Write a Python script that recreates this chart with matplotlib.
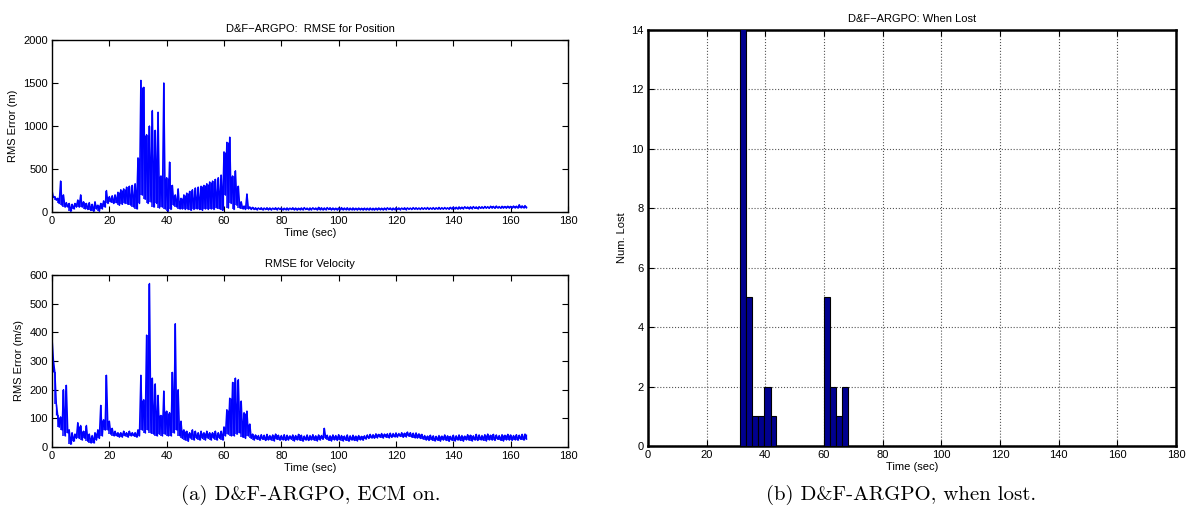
import matplotlib
matplotlib.use("Agg")
import matplotlib.pyplot as plt
import numpy as np

plt.rcParams['font.family'] = ['Liberation Sans', 'DejaVu Sans']

# ---- data (1 s steps, upper / lower envelope) ----
t_sec = np.arange(0, 166)

pos_hi = [250, 180, 160, 360, 200, 110, 100, 90, 100, 140,
          200, 120, 100, 110, 90, 120, 80, 100, 130, 250,
          180, 190, 200, 230, 260, 270, 290, 300, 310, 330,
          630, 1530, 1450, 900, 1000, 1180, 950, 1160, 420, 1500,
          400, 580, 310, 200, 270, 160, 200, 220, 240, 260,
          280, 290, 300, 310, 330, 350, 360, 380, 400, 430,
          700, 810, 870, 420, 480, 300, 120, 70, 210, 60,
          55, 50, 48, 50, 47, 50, 48, 46, 50, 48,
          47, 45, 48, 46, 50, 47, 45, 48, 52, 46,
          48, 50, 47, 55, 50, 48, 52, 50, 47, 45,
          48, 52, 47, 50, 46, 48, 45, 47, 44, 46,
          45, 47, 44, 46, 48, 45, 47, 50, 48, 46,
          50, 48, 47, 50, 49, 47, 52, 50, 48, 51,
          50, 53, 49, 52, 50, 54, 51, 53, 50, 55,
          58, 56, 60, 57, 62, 59, 61, 64, 60, 63,
          62, 65, 63, 68, 66, 70, 64, 67, 65, 68,
          66, 70, 68, 85, 72, 75]
pos_lo = [170, 140, 100, 80, 60, 60, 10, 40, 60, 60,
          60, 40, 30, 20, 10, 40, 10, 40, 60, 100,
          120, 100, 110, 80, 90, 100, 90, 80, 60, 40,
          100, 200, 150, 100, 120, 60, 100, 50, 60, 40,
          10, 30, 80, 60, 40, 40, 30, 30, 20, 30,
          40, 30, 20, 40, 30, 40, 30, 50, 40, 20,
          200, 50, 100, 30, 80, 50, 40, 30, 40, 30,
          30, 28, 32, 27, 30, 29, 26, 31, 28, 30,
          27, 29, 26, 30, 28, 25, 29, 27, 30, 26,
          28, 30, 27, 29, 26, 28, 30, 27, 29, 26,
          28, 27, 29, 26, 28, 27, 26, 28, 25, 27,
          26, 28, 25, 27, 29, 26, 28, 30, 27, 29,
          30, 28, 31, 29, 32, 30, 33, 31, 30, 32,
          33, 31, 34, 32, 35, 33, 34, 36, 33, 35,
          38, 36, 40, 38, 42, 39, 41, 43, 40, 44,
          42, 45, 43, 47, 44, 48, 45, 47, 46, 48,
          47, 50, 48, 52, 50, 53]

vel_hi = [380, 260, 110, 105, 200, 215, 60, 50, 45, 85,
          75, 55, 75, 45, 40, 50, 60, 145, 95, 250,
          90, 65, 55, 50, 50, 55, 50, 55, 50, 50,
          60, 250, 165, 390, 570, 240, 220, 180, 110, 195,
          125, 120, 260, 430, 200, 90, 60, 55, 50, 60,
          55, 50, 55, 50, 55, 50, 50, 55, 50, 55,
          70, 130, 170, 225, 240, 235, 160, 120, 125, 80,
          45, 42, 40, 43, 41, 44, 40, 42, 45, 41,
          40, 43, 41, 39, 42, 40, 44, 41, 38, 42,
          40, 43, 39, 42, 40, 65, 41, 39, 42, 40,
          43, 40, 38, 42, 39, 41, 38, 40, 37, 39,
          42, 44, 43, 46, 44, 47, 45, 46, 48, 47,
          49, 47, 50, 48, 52, 50, 48, 49, 46, 44,
          40, 38, 41, 39, 37, 40, 38, 42, 39, 37,
          41, 39, 42, 40, 38, 43, 41, 39, 44, 42,
          40, 43, 45, 41, 44, 42, 40, 43, 41, 44,
          42, 40, 43, 41, 44, 45]
vel_lo = [300, 150, 70, 60, 40, 50, 10, 20, 30, 30,
          25, 30, 20, 15, 15, 25, 30, 40, 60, 60,
          45, 40, 40, 35, 35, 40, 35, 40, 40, 35,
          40, 60, 50, 60, 50, 45, 40, 45, 40, 45,
          40, 40, 50, 60, 40, 30, 25, 20, 30, 25,
          30, 25, 30, 25, 30, 25, 30, 25, 30, 25,
          40, 45, 40, 40, 45, 50, 35, 30, 40, 30,
          25, 28, 24, 27, 23, 26, 25, 22, 27, 24,
          26, 23, 25, 27, 22, 26, 24, 21, 25, 23,
          26, 24, 22, 25, 27, 30, 24, 22, 26, 23,
          25, 22, 24, 21, 25, 23, 22, 26, 24, 28,
          30, 32, 31, 33, 34, 32, 35, 33, 34, 36,
          35, 37, 34, 36, 38, 35, 33, 32, 30, 28,
          25, 23, 26, 22, 24, 21, 25, 23, 20, 24,
          22, 25, 23, 21, 26, 24, 22, 25, 23, 26,
          24, 22, 26, 25, 23, 27, 24, 22, 26, 25,
          23, 26, 24, 27, 25, 28]

# histogram of loss times: bin left edges, widths and counts
lost_left = [31.5, 33.5, 35.5, 37.6, 39.7, 41.8, 60.0, 62.1, 64.2, 66.3]
lost_width = [2.0, 2.0, 2.1, 2.1, 2.1, 2.0, 2.1, 2.1, 2.1, 2.0]
lost_count = [15, 5, 1, 1, 2, 1, 5, 2, 1, 2]


def zigzag(t, hi, lo):
    x = np.empty(2 * len(t))
    y = np.empty(2 * len(t))
    x[0::2] = t
    x[1::2] = np.asarray(t) + 0.5
    y[0::2] = hi
    y[1::2] = lo
    return x, y


def noisy(ax, t, hi, lo):
    # dense noisy trace: zigzag between envelope plus a stroke per sample
    x, y = zigzag(t, hi, lo)
    ax.plot(x, y, color='b', lw=1.1)
    ax.vlines(t, lo, hi, color='b', lw=1.1)
    ax.vlines(np.asarray(t) + 0.5, lo, np.minimum(hi, np.roll(hi, -1)),
              color='b', lw=0.9)


def matlab_axes(ax, lw=1.0):
    for s in ax.spines.values():
        s.set_linewidth(lw)
    ax.tick_params(direction='in', top=True, right=True, length=4,
                   width=0.8, labelsize=8, pad=3)


fig = plt.figure(figsize=(11.9, 5.16), dpi=100)

ax1 = fig.add_axes([0.0437, 0.589, 0.4336, 0.3335])
ax2 = fig.add_axes([0.0437, 0.1337, 0.4336, 0.3335])
ax3 = fig.add_axes([0.5445, 0.1357, 0.4437, 0.8062])

noisy(ax1, t_sec, pos_hi, pos_lo)
ax1.set_xlim(0, 180)
ax1.set_ylim(0, 2000)
ax1.set_xticks(np.arange(0, 181, 20))
ax1.set_yticks(np.arange(0, 2001, 500))
ax1.set_title('D&F\u2212ARGPO:  RMSE for Position', fontsize=8, pad=6)
ax1.set_xlabel('Time (sec)', fontsize=8, labelpad=1)
ax1.set_ylabel('RMS Error (m)', fontsize=8, labelpad=4)
matlab_axes(ax1)

noisy(ax2, t_sec, vel_hi, vel_lo)
ax2.set_xlim(0, 180)
ax2.set_ylim(0, 600)
ax2.set_xticks(np.arange(0, 181, 20))
ax2.set_yticks(np.arange(0, 601, 100))
ax2.set_title('RMSE for Velocity', fontsize=8, pad=6)
ax2.set_xlabel('Time (sec)', fontsize=8, labelpad=1)
ax2.set_ylabel('RMS Error (m/s)', fontsize=8, labelpad=4)
matlab_axes(ax2)

ax3.bar(lost_left, lost_count, width=lost_width, align='edge',
        color='#00008f', edgecolor='k', linewidth=0.8, zorder=3)
ax3.set_xlim(0, 180)
ax3.set_ylim(0, 14)
ax3.set_xticks(np.arange(0, 181, 20))
ax3.set_yticks(np.arange(0, 15, 2))
ax3.grid(True, linestyle=':', color='#555555', linewidth=0.8)
ax3.set_title('D&F\u2212ARGPO: When Lost', fontsize=8, pad=6)
ax3.set_xlabel('Time (sec)', fontsize=8, labelpad=1)
ax3.set_ylabel('Num. Lost', fontsize=8, labelpad=3)
matlab_axes(ax3, lw=1.8)

cap_font = ['cmr10', 'DejaVu Serif']
fig.text(0.261, 0.040, '(a) D&F-ARGPO, ECM on.', ha='center', va='center',
         fontsize=15, family=cap_font)
fig.text(0.757, 0.040, '(b) D&F-ARGPO, when lost.', ha='center', va='center',
         fontsize=15, family=cap_font)

fig.savefig('out.png', dpi=100)
